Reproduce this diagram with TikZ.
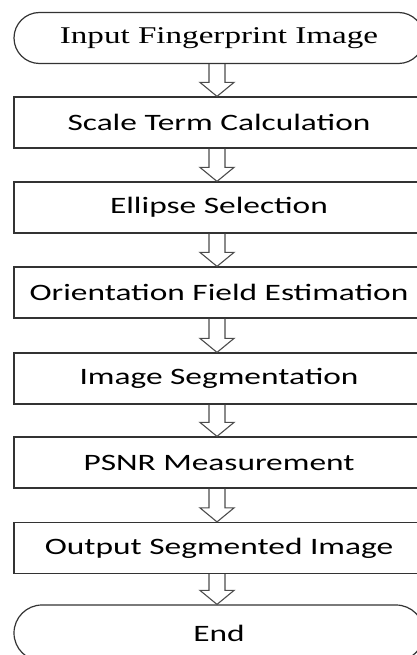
\documentclass[tikz,border=0pt]{standalone}
\usepackage{fontspec}
\setmainfont{Liberation Serif}[FakeStretch=1.38]
\setsansfont{Carlito}[FakeStretch=1.42]
\usetikzlibrary{shapes.misc, calc}

\begin{document}
\begin{tikzpicture}[x=1pt, y=1pt,
  process/.style={draw=black!80, line width=1.2pt, shape=rectangle, minimum width=410pt, minimum height=51pt, inner sep=0pt, font=\sffamily\fontsize{23.5}{28}\selectfont},
  terminal/.style={draw=black!80, line width=1.2pt, shape=rounded rectangle, minimum width=410pt, minimum height=51pt, inner sep=0pt},
  blockarrow/.style={draw=black!70, line width=1.1pt, line join=miter}]
\useasboundingbox (0,0) rectangle (417,-655);
\node [terminal, font=\rmfamily\fontsize{24}{28}\selectfont] (input) at (219,-38) {Input Fingerprint Image};
\node [process] (scale) at (219,-122.5) {Scale Term Calculation};
\node [process] (ellsel) at (219,-207.5) {Ellipse Selection};
\node [process] (orient) at (219,-292.5) {Orientation Field Estimation};
\node [process] (imseg) at (219,-378.5) {Image Segmentation};
\node [process] (psnr) at (219,-462.5) {PSNR Measurement};
\node [process] (output) at (219,-548) {Output Segmented Image};
\node [terminal, minimum height=56pt, font=\sffamily\fontsize{23.5}{28}\selectfont] (end) at (219,-633) {End};
\foreach \a/\b in {input/scale, scale/ellsel, ellsel/orient, orient/imseg, imseg/psnr, psnr/output, output/end}
  \draw [blockarrow] ($(\a.south)+(-10,0)$) -- ($(\b.north)+(-10,14)$) -- ($(\b.north)+(-19,14)$) -- ($(\b.north)+(-2,0)$) -- ($(\b.north)+(15,14)$) -- ($(\b.north)+(6,14)$) -- ($(\a.south)+(6,0)$);
\end{tikzpicture}
\end{document}
